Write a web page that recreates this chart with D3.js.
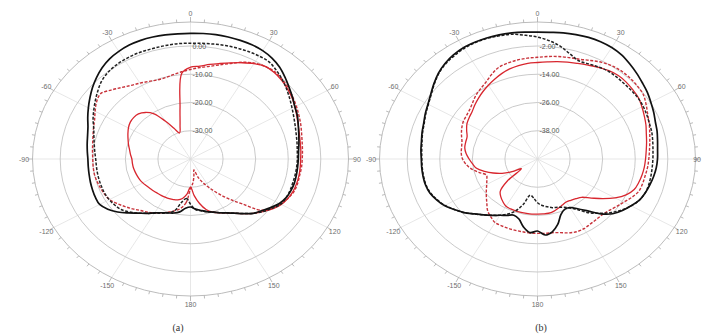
<!DOCTYPE html>
<html>
<head>
<meta charset="utf-8">
<script src="https://cdn.jsdelivr.net/npm/d3@7"></script>
<style>
  body { margin: 0; background: #fff; }
  svg { display: block; }
</style>
</head>
<body>
<svg id="chart" width="702" height="336"></svg>
<script>
// Sampling angles (degrees, clockwise from top), shared by all traces
const angles = d3.range(-180, 180, 5);

// Angular grid labels
const angleTicks = [0, 30, 60, 90, 120, 150, 180, -150, -120, -90, -60, -30];

// Radial grid levels (dB)
const ringsA = [0, -10, -20, -30];
const ringsB = [-2, -14, -26, -38];

// Panel (a) patterns, dB
const aBlackSolid = [-23.0,-22.5,-21.0,-20.2,-19.7,-19.0,-18.0,-16.5,-15.0,-13.0,-10.8,-9.0,-7.8,-7.8,-8.0,-8.2,-8.4,-8.5,-8.5,-8.2,-7.8,-7.3,-6.5,-5.2,-3.8,-2.3,-0.7,0.8,2.2,3.3,4.0,4.5,4.7,4.7,4.6,4.5,4.5,4.6,4.7,4.7,4.7,4.6,4.3,3.6,2.5,1.0,-0.5,-1.8,-3.0,-3.8,-4.8,-5.6,-6.2,-6.7,-6.9,-7.0,-7.0,-7.0,-7.2,-7.6,-8.5,-10.0,-11.5,-12.8,-14.8,-16.6,-18.0,-19.0,-20.0,-20.7,-21.5,-22.2];
const aBlackDash = [-24.0,-26.0,-24.5,-21.0,-19.7,-18.8,-17.8,-16.5,-15.0,-13.5,-12.2,-11.6,-11.2,-11.0,-11.0,-11.0,-11.0,-11.0,-10.9,-10.5,-10.0,-9.3,-8.4,-7.0,-5.7,-4.3,-2.8,-1.3,-0.3,0.3,0.6,0.8,0.8,0.8,0.9,1.0,1.0,1.1,1.3,1.6,1.8,2.0,2.1,2.0,1.0,-0.2,-1.5,-2.8,-4.0,-5.0,-5.8,-6.4,-6.8,-7.1,-7.2,-7.3,-7.4,-7.5,-7.5,-7.6,-8.0,-9.5,-11.0,-12.8,-14.8,-16.6,-18.0,-19.0,-20.0,-20.7,-21.4,-22.0];
const aRedSolid = [-30.0,-27.5,-25.8,-25.0,-24.7,-24.5,-24.4,-24.3,-24.2,-24.0,-23.8,-23.5,-23.1,-22.8,-22.6,-22.4,-22.2,-22.1,-22.0,-21.5,-21.0,-20.3,-19.6,-18.8,-18.0,-17.4,-17.2,-17.4,-18.5,-20.5,-24.5,-28.0,-30.2,-27.6,-21.5,-9.5,-7.5,-7.0,-6.0,-5.0,-3.8,-2.4,-1.0,0.0,0.0,-0.5,-1.2,-2.0,-3.0,-4.0,-4.8,-5.4,-5.8,-6.0,-6.2,-6.2,-6.2,-6.3,-6.5,-7.0,-7.8,-9.2,-11.0,-12.8,-14.8,-16.5,-18.0,-19.0,-20.0,-21.5,-24.0,-27.0];
const aRedDash = [-29.5,-24.5,-22.2,-21.0,-20.0,-19.0,-18.0,-17.0,-16.2,-15.0,-13.8,-12.5,-11.3,-10.8,-10.5,-10.2,-10.0,-10.0,-10.0,-9.8,-9.5,-9.0,-8.3,-7.5,-6.2,-4.8,-4.0,-5.5,-7.0,-8.2,-9.0,-9.7,-10.2,-10.2,-9.7,-9.0,-8.3,-7.5,-6.7,-5.5,-4.0,-2.2,-0.8,0.0,0.3,-0.2,-0.8,-1.7,-2.5,-3.3,-4.0,-4.7,-5.2,-5.5,-5.7,-5.8,-6.0,-6.0,-6.2,-7.0,-8.0,-9.5,-11.8,-17.5,-21.5,-25.0,-28.0,-30.5,-33.0,-36.0,-34.0,-31.5];

// Panel (b) patterns, dB
const bBlackSolid = [-19.4,-18.6,-20.6,-23.6,-24.6,-23.6,-22.4,-20.8,-19.0,-17.0,-14.6,-12.6,-10.4,-9.0,-7.8,-7.3,-7.2,-7.2,-7.2,-6.9,-6.6,-6.0,-5.4,-4.4,-3.4,-2.0,-0.2,1.6,3.0,4.0,4.6,4.7,4.7,4.6,4.4,4.1,3.9,4.0,4.4,4.7,5.0,5.0,4.7,4.0,2.8,1.6,0.4,-0.6,-1.8,-2.8,-3.8,-4.4,-5.1,-5.6,-5.8,-6.1,-6.6,-7.2,-7.8,-8.6,-10.2,-11.8,-13.8,-17.0,-21.2,-24.2,-26.2,-26.4,-24.8,-21.2,-18.6,-17.6];
const bBlackDash = [-31.4,-33.4,-34.4,-30.2,-26.6,-24.2,-22.4,-20.8,-19.0,-17.0,-14.6,-12.6,-10.6,-9.2,-8.0,-7.5,-7.4,-7.4,-7.4,-7.2,-6.8,-6.2,-5.6,-4.6,-3.6,-2.2,-0.4,1.4,2.7,3.5,4.2,4.5,4.5,4.2,3.8,2.8,1.8,0.4,-1.4,-3.8,-5.6,-5.4,-4.9,-4.5,-4.6,-4.8,-4.8,-4.8,-5.1,-5.6,-6.1,-6.4,-6.9,-7.3,-7.5,-7.6,-7.6,-7.6,-7.8,-8.6,-10.2,-12.2,-14.6,-17.4,-20.1,-23.6,-26.0,-27.4,-28.2,-28.6,-29.4,-30.2];
const bRedSolid = [-26.6,-26.5,-26.5,-26.5,-26.5,-26.6,-26.8,-27.8,-29.0,-30.6,-35.6,-42.8,-39.2,-35.6,-32.6,-29.8,-27.2,-26.0,-24.8,-23.6,-22.8,-22.6,-22.4,-21.2,-20.0,-19.3,-18.6,-17.4,-16.2,-15.0,-13.8,-12.6,-11.4,-10.4,-9.7,-9.2,-9.0,-8.6,-8.0,-7.4,-6.8,-6.0,-5.0,-4.2,-3.7,-3.8,-4.2,-4.6,-5.6,-6.6,-7.5,-8.5,-9.2,-9.8,-10.2,-10.5,-10.9,-11.4,-12.1,-14.0,-17.0,-20.6,-24.2,-27.0,-28.0,-28.6,-28.9,-28.4,-27.7,-27.0,-26.6,-26.6];
const bRedDash = [-18.4,-18.4,-18.6,-18.6,-18.6,-18.7,-18.8,-20.0,-21.4,-23.6,-25.4,-27.0,-28.4,-29.4,-30.0,-27.8,-25.4,-23.6,-22.4,-21.8,-21.6,-21.2,-20.2,-19.2,-18.4,-18.0,-17.4,-16.2,-14.7,-13.5,-12.2,-10.2,-8.5,-7.8,-7.3,-7.0,-6.8,-6.3,-5.8,-5.4,-4.9,-3.8,-2.6,-1.8,-1.5,-1.6,-1.9,-2.4,-3.8,-5.2,-6.2,-7.2,-8.0,-8.6,-9.0,-9.3,-9.7,-9.9,-10.2,-11.6,-13.3,-14.6,-15.8,-16.4,-16.4,-16.2,-15.8,-15.9,-16.6,-17.6,-18.2,-18.3];

const W = 702;
const svg = d3.select("#chart");
const rad = d => d * Math.PI / 180;

function drawPanel(opt) {
  const { cx, cy, rx, ry, domain, rings, series, caption, capX } = opt;
  const r = d3.scaleLinear().domain(domain).range([0, 1]).clamp(true);
  const px = (a, v) => cx + rx * r(v) * Math.sin(rad(a));
  const py = (a, v) => cy - ry * r(v) * Math.cos(rad(a));
  const g = svg.append("g");

  // spokes every 30 degrees
  g.selectAll("line.spoke").data(angleTicks).join("line")
    .attr("x1", cx).attr("y1", cy)
    .attr("x2", a => cx + rx * Math.sin(rad(a)))
    .attr("y2", a => cy - ry * Math.cos(rad(a)))
    .attr("stroke", "#dcdcdc").attr("stroke-width", 0.7);

  // dB rings
  g.selectAll("ellipse.ring").data(rings).join("ellipse")
    .attr("cx", cx).attr("cy", cy)
    .attr("rx", v => rx * r(v)).attr("ry", v => ry * r(v))
    .attr("fill", "none").attr("stroke", "#c4c4c4").attr("stroke-width", 0.9);

  // outer ring with degree ticks
  g.append("ellipse").attr("cx", cx).attr("cy", cy).attr("rx", rx).attr("ry", ry)
    .attr("fill", "none").attr("stroke", "#b4b4b4").attr("stroke-width", 0.9);
  g.selectAll("line.tick").data(d3.range(0, 360, 5)).join("line")
    .attr("x1", a => cx + rx * Math.sin(rad(a)))
    .attr("y1", a => cy - ry * Math.cos(rad(a)))
    .attr("x2", a => cx + (rx + (a % 30 === 0 ? 5 : 3)) * Math.sin(rad(a)))
    .attr("y2", a => cy - (ry + (a % 30 === 0 ? 5 : 3)) * Math.cos(rad(a)))
    .attr("stroke", "#a8a8a8").attr("stroke-width", 0.8);

  // angle labels, kept inside the drawing area
  g.selectAll("text.ang").data(angleTicks).join("text")
    .each(function (a) {
      let x = cx + (rx + 8.5) * Math.sin(rad(a));
      let anchor = "middle";
      if (x > W - 6) { x = W - 1; anchor = "end"; }
      d3.select(this).attr("x", x).attr("text-anchor", anchor);
    })
    .attr("y", a => cy - (ry + 8.5) * Math.cos(rad(a)) + 2.5)
    .attr("font-family", "Liberation Sans, Arial, sans-serif")
    .attr("font-size", 7).attr("fill", "#6e6e6e")
    .text(a => a);

  // ring labels
  g.selectAll("text.ring").data(rings).join("text")
    .attr("x", cx + 2).attr("y", v => cy - ry * r(v) + 2.5)
    .attr("font-family", "Liberation Sans, Arial, sans-serif")
    .attr("font-size", 7).attr("fill", "#555")
    .text(v => v.toFixed(2));

  // pattern traces
  const line = d3.line()
    .x(d => px(d[0], d[1])).y(d => py(d[0], d[1]))
    .curve(d3.curveCatmullRomClosed.alpha(0.5));
  series.forEach(s => {
    g.append("path")
      .datum(angles.map((a, i) => [a, s.values[i]]))
      .attr("d", line)
      .attr("fill", "none")
      .attr("stroke", s.color)
      .attr("stroke-width", s.width)
      .attr("stroke-dasharray", s.dash || null)
      .attr("stroke-linejoin", "round");
  });

  svg.append("text").attr("x", capX).attr("y", 331)
    .attr("text-anchor", "middle")
    .attr("font-family", "Liberation Serif, Times New Roman, serif")
    .attr("font-size", 10).attr("fill", "#333")
    .text(caption);
}

const styles = (bs, bd, rs, rd) => [
  { values: rd, color: "#c8323a", width: 1.4, dash: "3,1.6" },
  { values: rs, color: "#d8262e", width: 1.3 },
  { values: bd, color: "#222", width: 1.5, dash: "3,1.6" },
  { values: bs, color: "#111", width: 1.7 }
];

drawPanel({
  cx: 190.5, cy: 159, rx: 158, ry: 137, domain: [-40, 8.5],
  rings: ringsA, caption: "(a)", capX: 178,
  series: styles(aBlackSolid, aBlackDash, aRedSolid, aRedDash)
});

drawPanel({
  cx: 537.5, cy: 159, rx: 158, ry: 137, domain: [-50, 8.2],
  rings: ringsB, caption: "(b)", capX: 541,
  series: styles(bBlackSolid, bBlackDash, bRedSolid, bRedDash)
});
</script>
</body>
</html>
